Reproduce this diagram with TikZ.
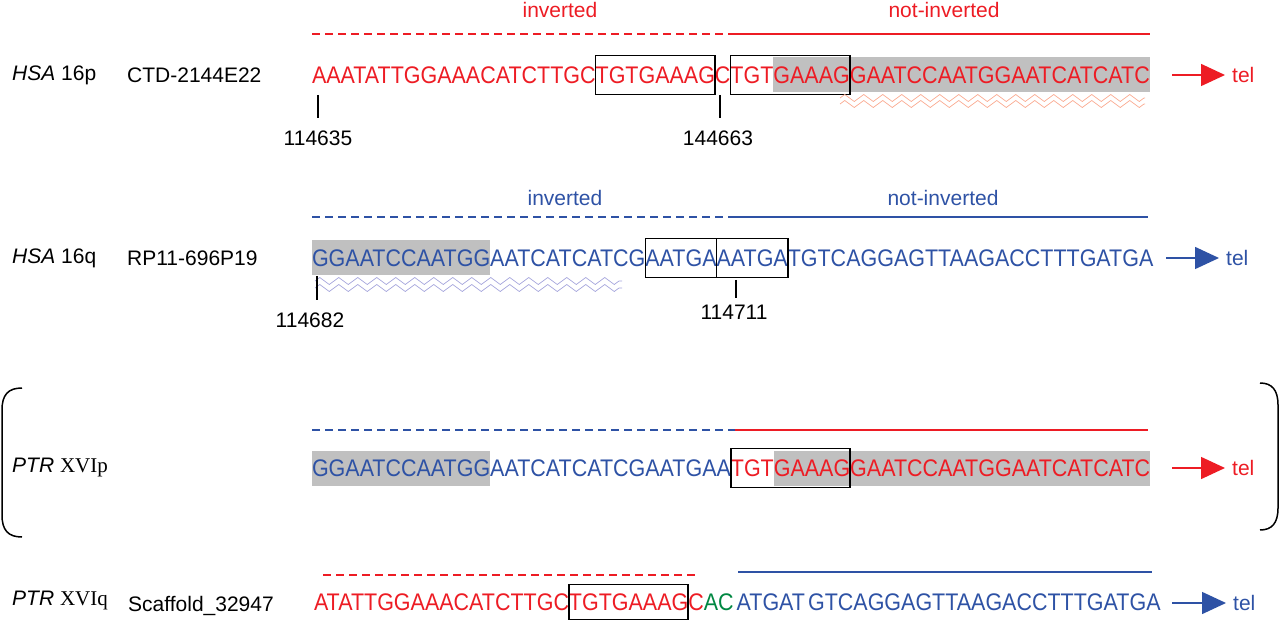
\documentclass[tikz,border=0pt]{standalone}
\usepackage{fontspec}
\setmainfont{Liberation Sans}
\newfontfamily\seqfont[FakeStretch=0.895]{Liberation Sans}
\newfontfamily\romfont{Liberation Serif}
\usetikzlibrary{positioning, fit, arrows.meta, decorations.pathmorphing}
\definecolor{hsared}{RGB}{237,28,36}
\definecolor{hsablue}{RGB}{46,82,165}
\definecolor{acgreen}{RGB}{0,135,65}
\definecolor{shade}{RGB}{192,192,192}
\definecolor{salmon}{RGB}{250,170,145}
\definecolor{lavender}{RGB}{165,165,220}
\tikzset{
x=1pt, y=-1pt, % one unit is one pixel, y runs downwards
seq/.style={inner xsep=0pt, inner ysep=9pt, outer sep=0pt, text height=17pt, text depth=0pt, font=\seqfont\fontsize{24}{28}\selectfont}, % one stretch of sequence
hit/.style={seq, fill=shade}, % shaded stretch
motif/.style={draw, line width=1.7pt, inner xsep=0pt, inner ysep=2pt}, % box round a motif
lbl/.style={inner sep=0pt, font=\fontsize{21}{25}\selectfont}, % names, positions, tel
inv/.style={line width=1.3pt, dash pattern=on 8pt off 5pt}, % inverted part
notinv/.style={line width=1.3pt}, % not-inverted part
tick/.style={line width=1.5pt}, % position marks
telarrow/.style={line width=1.5pt, -{Triangle[length=24pt,width=22pt]}, shorten >=7pt}, % towards the telomere
wave/.style={line width=0.7pt, decorate, decoration={zigzag, segment length=19pt, amplitude=3.5pt}}, % repeat underline
}

\begin{document}
\begin{tikzpicture}
\useasboundingbox (0,0) rectangle (1280,620);

% HSA 16p
\node[lbl, text=hsared] (i1) at (560,10) {inverted};
\node[lbl, text=hsared] (ni1) at (944,10) {not-inverted};
\draw[inv, hsared] (312,34) -- (775,34);
\draw[notinv, hsared] (730,34) -- (1150,34);
\node[lbl, anchor=west] (sp1) at (12,75) {\textit{HSA} 16p};
\node[lbl, anchor=west] (cl1) at (127,75) {CTD-2144E22};
\node[seq, text=hsared, anchor=west] (s1a) at (312,75) {AAATATTGGAAACATCTTGC};
\node[seq, text=hsared, right=0pt of s1a] (s1b) {TGTGAAAG};
\node[seq, text=hsared, right=0pt of s1b] (s1c) {C};
\node[seq, text=hsared, right=0pt of s1c] (s1d) {TGT};
\node[hit, text=hsared, right=0pt of s1d] (s1e) {GAAAG};
\node[hit, text=hsared, right=0pt of s1e] (s1f) {GAATCCAATGGAATCATCATC};
\node[motif, fit=(s1b)] (m1a) {};
\node[motif, fit=(s1d)(s1e)] (m1b) {};
\draw[wave, salmon] (840,98) -- (1145,98);
\draw[wave, salmon] (840,104) -- (1145,104);
\coordinate (t1a) at (318,95);
\coordinate (t1b) at (720,95);
\node[lbl] (n1a) at (318,138) {114635};
\node[lbl] (n1b) at (718,138) {144663};
\draw[tick, shorten >=20pt] (t1a) -- (t1a |- n1a);
\draw[tick, shorten >=20pt] (t1b) -- (t1b |- n1b);
\coordinate (e1) at (1172,75);
\node[lbl, text=hsared, anchor=west] (tel1) at (1232,75) {tel};
\draw[telarrow, hsared] (e1) -- (tel1.west);

% HSA 16q
\node[lbl, text=hsablue] (i2) at (565,198) {inverted};
\node[lbl, text=hsablue] (ni2) at (943,198) {not-inverted};
\draw[inv, hsablue] (312,217) -- (780,217);
\draw[notinv, hsablue] (735,217) -- (1148,217);
\node[lbl, anchor=west] (sp2) at (12,258) {\textit{HSA} 16q};
\node[lbl, anchor=west] (cl2) at (127,258) {RP11-696P19};
\node[hit, text=hsablue, anchor=west] (s2a) at (312,258) {GGAATCCAATGG};
\node[seq, text=hsablue, right=0pt of s2a] (s2b) {AATCATCATCG};
\node[seq, text=hsablue, right=0pt of s2b] (s2c) {AATGA};
\node[seq, text=hsablue, right=0pt of s2c] (s2d) {AATGA};
\node[seq, text=hsablue, right=0pt of s2d] (s2e) {TGTCAGGAGTTAAGACCTTTGATGA};
\node[motif, fit=(s2c)] (m2a) {};
\node[motif, fit=(s2d)] (m2b) {};
\draw[wave, lavender] (315,281) -- (622,281);
\draw[wave, lavender] (315,288) -- (622,288);
\coordinate (t2a) at (317,276);
\coordinate (t2b) at (736,280);
\node[lbl] (n2a) at (310,320) {114682};
\node[lbl] (n2b) at (734,312) {114711};
\draw[tick, shorten >=20pt] (t2a) -- (t2a |- n2a);
\draw[tick, shorten >=14pt] (t2b) -- (t2b |- n2b);
\coordinate (e2) at (1166,258);
\node[lbl, text=hsablue, anchor=west] (tel2) at (1226,258) {tel};
\draw[telarrow, hsablue] (e2) -- (tel2.west);

% PTR XVIp
\draw[line width=1.5pt] (22,388) .. controls (8,388) and (2,395) .. (2,410) -- (2,515) .. controls (2,530) and (8,537) .. (22,537);
\draw[line width=1.5pt] (1260,383) .. controls (1272,383) and (1278,390) .. (1278,405) -- (1278,508) .. controls (1278,523) and (1272,530) .. (1260,530);
\node[lbl, anchor=west] (sp3) at (12,468) {\textit{PTR} {\romfont XVIp}};
\draw[inv, hsablue] (312,430) -- (735,430);
\draw[notinv, hsared] (735,430) -- (1148,430);
\node[hit, text=hsablue, anchor=west] (s3a) at (312,468) {GGAATCCAATGG};
\node[seq, text=hsablue, right=0pt of s3a] (s3b) {AATCATCATCGAATGAA};
\node[seq, text=hsared, right=0pt of s3b] (s3c) {TGT};
\node[hit, text=hsared, right=0pt of s3c] (s3d) {GAAAG};
\node[hit, text=hsared, right=0pt of s3d] (s3e) {GAATCCAATGGAATCATCATC};
\node[motif, fit=(s3c)(s3d)] (m3) {};
\coordinate (e3) at (1172,468);
\node[lbl, text=hsared, anchor=west] (tel3) at (1232,468) {tel};
\draw[telarrow, hsared] (e3) -- (tel3.west);

% PTR XVIq
\draw[inv, hsared] (323,575) -- (697,575);
\draw[notinv, hsablue] (738,572) -- (1152,572);
\node[lbl, anchor=west] (sp4) at (12,601) {\textit{PTR} {\romfont XVIq}};
\node[lbl, anchor=west] (cl4) at (128,606) {Scaffold\_32947};
\node[seq, text=hsared, anchor=west] (s4a) at (314,602) {ATATTGGAAACATCTTGC};
\node[seq, text=hsared, right=0pt of s4a] (s4b) {TGTGAAAG};
\node[seq, text=hsared, right=0pt of s4b] (s4c) {C};
\node[seq, text=acgreen, right=0pt of s4c] (s4d) {AC};
\node[seq, text=hsablue, right=3pt of s4d] (s4e) {ATGAT};
\node[seq, text=hsablue, right=3pt of s4e] (s4f) {GTCAGGAGTTAAGACCTTTGATGA};
\node[motif, inner ysep=0pt, fit=(s4b)] (m4) {};
\coordinate (e4) at (1172,603);
\node[lbl, text=hsablue, anchor=west] (tel4) at (1233,603) {tel};
\draw[telarrow, hsablue] (e4) -- (tel4.west);

\end{tikzpicture}
\end{document}
